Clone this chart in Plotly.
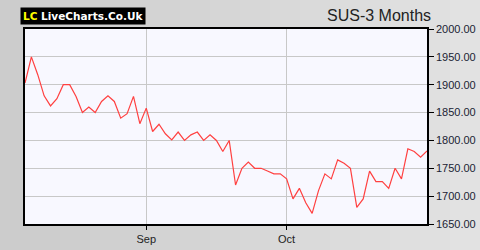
import plotly.graph_objects as go

values = [1903, 1950, 1918, 1880, 1862, 1875, 1900, 1900, 1879, 1850,
          1860, 1850, 1870, 1880, 1870, 1840, 1848, 1879, 1830, 1858,
          1816, 1829, 1812, 1801, 1815, 1800, 1810, 1815, 1800, 1810,
          1800, 1780, 1800, 1720, 1750, 1761, 1750, 1750, 1745, 1740,
          1740, 1731, 1695, 1714, 1688, 1669, 1710, 1740, 1731, 1765,
          1759, 1750, 1680, 1695, 1745, 1726, 1726, 1714, 1750, 1731,
          1785, 1780, 1770, 1781]
x_index = list(range(len(values)))
month_ticks = [19, 41]
month_labels = ["Sep", "Oct"]
y_ticks = [1650, 1700, 1750, 1800, 1850, 1900, 1950, 2000]
y_labels = [f"{v:.2f}" for v in y_ticks]

fig = go.Figure()
fig.add_trace(go.Scatter(x=x_index, y=values, mode="lines",
                         line=dict(color="#ff4040", width=1.2), hoverinfo="skip"))

# background gradient approximation
W, H = 402, 195
shapes = []
n = 16
for i in range(n):
    c = int(0xcc + (0xe2 - 0xcc) * i / (n - 1))
    shapes.append(dict(type="rect", xref="paper", yref="paper",
                       x0=(-25 + i * 480 / n) / W, x1=(-25 + (i + 1) * 480 / n + 1) / W,
                       y0=-26 / H, y1=1 + 29 / H, fillcolor=f"rgb({c},{c},{c})",
                       line=dict(width=0), layer="below"))
shapes.append(dict(type="rect", xref="paper", yref="paper", x0=0, x1=1, y0=0, y1=1,
                   fillcolor="#f8f8ff", line=dict(width=0), layer="below"))

fig.update_layout(
    width=480, height=250,
    margin=dict(l=25, r=53, t=29, b=26),
    paper_bgcolor="#d6d6d6",
    plot_bgcolor="#f8f8ff",
    showlegend=False,
    shapes=shapes,
    font=dict(family="Arial, Liberation Sans, sans-serif", color="#222222"),
    xaxis=dict(range=[0, len(values) - 1], tickmode="array", tickvals=month_ticks,
               ticktext=month_labels, showgrid=True, gridcolor="#c8c8c8", gridwidth=1,
               ticks="outside", ticklen=4, tickcolor="#000", tickfont=dict(size=11, color="#222"),
               showline=True, linecolor="#000", linewidth=1.5, mirror=True, zeroline=False,
               automargin=False),
    yaxis=dict(range=[1650, 2000], side="right", tickmode="array", tickvals=y_ticks,
               ticktext=y_labels, showgrid=True, gridcolor="#c8c8c8", gridwidth=1,
               ticks="outside", ticklen=5, tickcolor="#000", tickfont=dict(size=11, color="#1a2233"),
               showline=True, linecolor="#000", linewidth=1.5, mirror=True, zeroline=False,
               automargin=False),
    annotations=[
        dict(xref="paper", yref="paper", x=-5 / W, y=1 + 4 / H, xanchor="left", yanchor="bottom",
             text="<b><span style='color:#ffff00'>LC</span> LiveCharts.Co.Uk</b>",
             font=dict(size=10.5, color="#ffffff", family="DejaVu Sans"),
             bgcolor="#000000", borderpad=2, showarrow=False),
        dict(xref="paper", yref="paper", x=1 + 6 / W, y=1 + 3 / H, xanchor="right", yanchor="bottom",
             text="SUS-3 Months", font=dict(size=16, color="#222222"), showarrow=False),
    ],
)

fig.write_html("out.html")
